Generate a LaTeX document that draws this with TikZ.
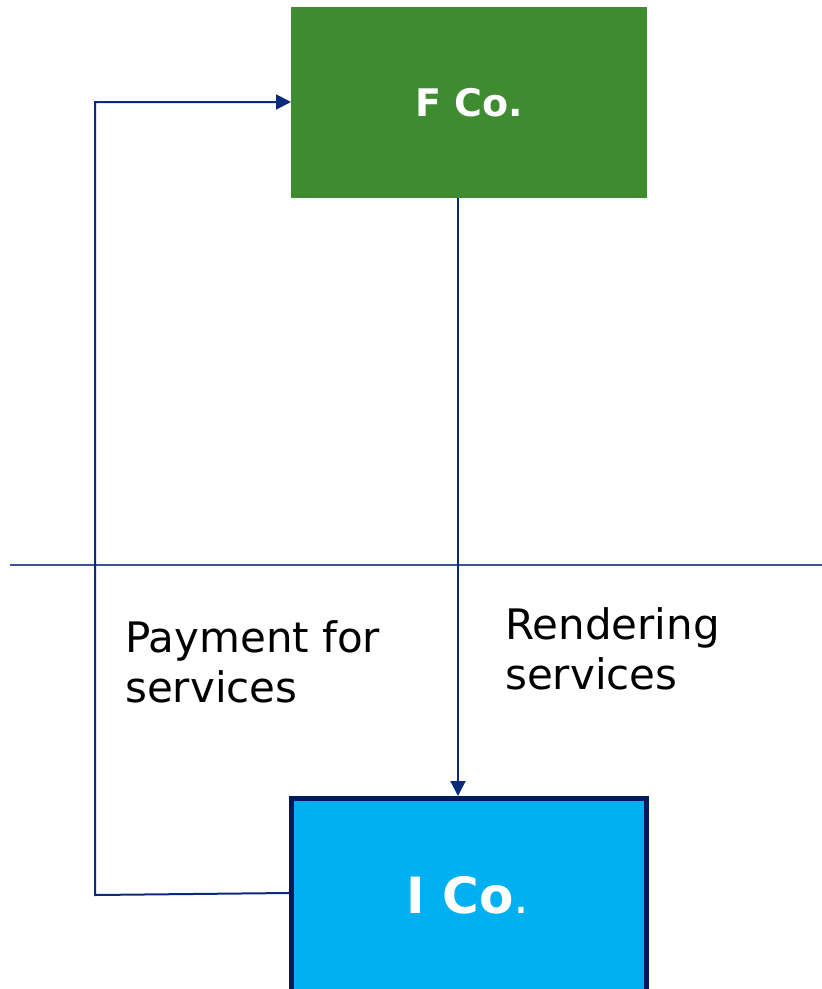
\documentclass[tikz,border=0pt]{standalone}
\usepackage{fontspec}
\setmainfont{DejaVu Sans}
\usetikzlibrary{arrows.meta}
\definecolor{fgreen}{HTML}{3E8B30}
\definecolor{icyan}{HTML}{00B0F0}
\definecolor{navy}{HTML}{0B2A7C}
\definecolor{dnavy}{HTML}{001A5C}
\tikzset{
  conn/.style={draw=navy, line width=2pt},
  arr/.style={conn, -{Triangle[length=15pt,width=15pt]}},
  lbl/.style={anchor=west, align=left, inner sep=0pt, font=\fontsize{42}{50}\selectfont},
}
\begin{document}
\begin{tikzpicture}[x=1pt,y=-1pt]
\useasboundingbox (0,0) rectangle (822,989);
\fill[white] (0,0) rectangle (822,989);
% boxes
\node[fill=fgreen, minimum width=356pt, minimum height=191pt, inner sep=0pt, outer sep=0pt, anchor=north west,
      text=white, font=\fontsize{38}{44}\bfseries\selectfont] (F) at (291,7) {F Co.};
\node[fill=icyan, draw=dnavy, line width=5pt, minimum width=355.5pt, minimum height=200pt, inner sep=0pt,
      outer sep=0pt, anchor=north west, text=white] (I) at (291,798.5) {};
\node[text=white, inner sep=0pt, font=\fontsize{50}{56}\selectfont] (IT) at (468,895) {\textbf{I Co}.};
% separator
\coordinate (L1) at (10,565);
\coordinate (L2) at (822,565);
\draw[draw=navy!80!white, line width=2pt] (L1) -- (L2);
% connectors
\coordinate (Fb) at (458,198);
\coordinate (It) at (458,796);
\draw[arr] (Fb) -- (It);
\coordinate (Il) at (289,893);
\coordinate (c1) at (95,895);
\coordinate (c2) at (95,102);
\coordinate (Fl) at (291,102);
\draw[arr] (Il) -- (c1) -- (c2) -- (Fl);
% labels
\node[lbl] (pay) at (125,662) {Payment for\\services};
\node[lbl] (ren) at (505,649) {Rendering\\services};
\end{tikzpicture}
\end{document}
